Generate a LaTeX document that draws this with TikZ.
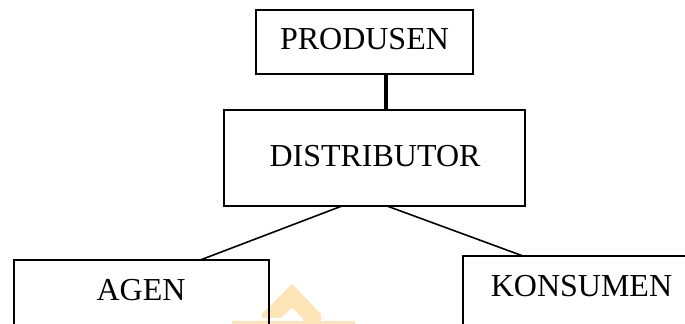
\documentclass[tikz,border=0pt]{standalone}
\usepackage{fontspec}
\setmainfont{Liberation Serif}
\definecolor{wmark}{RGB}{253,229,184}
\begin{document}
\begin{tikzpicture}[x=0.5pt,y=-0.5pt,
  box/.style={draw, line width=1pt, rectangle, inner sep=0pt, outer sep=0pt},
  lbl/.style={anchor=base, inner sep=0pt, font=\fontsize{16}{19}\selectfont},
  conn/.style={line width=0.8pt},
  thickconn/.style={line width=1.6pt}]
\clip (0,0) rectangle (685,324);
\fill[white] (0,0) rectangle (685,324);
% watermark
\fill[wmark] (262,314) -- (292,284) -- (321,314) -- (321,324) -- (303,324) -- (303,318) -- (292,308) -- (281,318) -- (262,318) -- cycle;
\fill[wmark] (232,321) rectangle (355,324);
% boxes
\node[box, minimum width=108.5pt, minimum height=32pt] (prod) at (364.5,42) {};
\node[box, minimum width=150.5pt, minimum height=48pt] (dist) at (374.5,158) {};
\node[box, minimum width=127.5pt, minimum height=40pt] (agen) at (141.5,300.5) {};
\node[box, minimum width=118.5pt, minimum height=42pt] (kons) at (581.5,298) {};
% labels
\node[lbl] (tprod) at (364.5,50) {PRODUSEN};
\node[lbl] (tdist) at (375,167) {DISTRIBUTOR};
\node[lbl] (tagen) at (141,301) {AGEN};
\node[lbl] (tkons) at (581.5,297) {KONSUMEN};
% connectors
\draw[thickconn] ([xshift=10.75pt]prod.south) -- ([xshift=5.75pt]dist.north);
\draw[conn] ([xshift=-16.25pt]dist.south) -- ([xshift=28.75pt]agen.north);
\draw[conn] ([xshift=6.25pt]dist.south) -- ([xshift=-29.25pt]kons.north);
\end{tikzpicture}
\end{document}
